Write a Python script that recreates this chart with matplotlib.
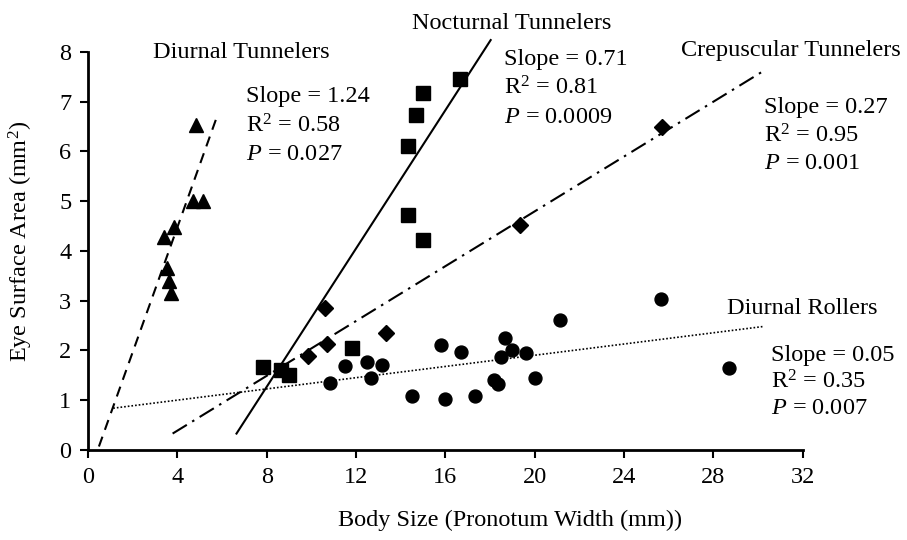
import matplotlib
matplotlib.use('Agg')
import matplotlib.pyplot as plt

plt.rcParams['font.family'] = ['Liberation Serif', 'DejaVu Serif']
plt.rcParams['mathtext.fontset'] = 'custom'
plt.rcParams['mathtext.rm'] = 'Liberation Serif'
plt.rcParams['mathtext.it'] = 'Liberation Serif:italic'
plt.rcParams['font.size'] = 17.5

# diurnal tunnelers (triangles)
dt_x = [4.83, 4.71, 5.13, 3.85, 3.42, 3.52, 3.61, 3.70]
dt_y = [6.53, 5.00, 5.00, 4.49, 4.29, 3.66, 3.40, 3.15]
dt_fit_x = [0.49, 5.83]
dt_fit_y = [0.07, 6.77]

# nocturnal tunnelers (squares)
nt_x = [7.85, 8.66, 9.00, 11.84, 14.35, 15.00, 14.35, 14.68, 15.00, 16.67]
nt_y = [1.67, 1.61, 1.50, 2.06, 4.72, 4.22, 6.12, 6.73, 7.17, 7.46]
nt_fit_x = [6.65, 18.03]
nt_fit_y = [0.33, 8.24]

# crepuscular tunnelers (diamonds)
ct_x = [9.86, 10.68, 10.60, 13.33, 19.33, 25.71]
ct_y = [1.89, 2.14, 2.85, 2.35, 4.52, 6.50]
ct_fit_x = [3.79, 30.32]
ct_fit_y = [0.33, 7.64]

# diurnal rollers (circles)
dr_x = [10.83, 11.50, 12.51, 12.69, 13.17, 14.51, 15.79, 16.00, 16.71, 17.34,
        18.18, 18.36, 18.51, 18.67, 18.98, 19.60, 20.00, 21.12, 25.67, 28.72]
dr_y = [1.34, 1.68, 1.76, 1.44, 1.71, 1.09, 2.11, 1.03, 1.96, 1.09,
        1.41, 1.32, 1.86, 2.25, 2.00, 1.94, 1.44, 2.61, 3.04, 1.64]
dr_fit_x = [1.13, 30.2]
dr_fit_y = [0.84, 2.48]

x_ticks = [0, 4, 8, 12, 16, 20, 24, 28, 32]
y_ticks = [0, 1, 2, 3, 4, 5, 6, 7, 8]

fig = plt.figure(figsize=(9.07, 5.40), dpi=100)
ax = fig.add_axes([0.097, 0.1667, 0.788, 0.737])

ax.plot(dt_fit_x, dt_fit_y, color='black', lw=1.5, ls=(0, (5, 3.5)), clip_on=False)
ax.plot(nt_fit_x, nt_fit_y, color='black', lw=1.5, ls='-', clip_on=False)
ax.plot(ct_fit_x, ct_fit_y, color='black', lw=1.5, ls=(0, (8, 3, 1.2, 3)), clip_on=False)
ax.plot(dr_fit_x, dr_fit_y, color='black', lw=1.2, ls=(0, (1, 1.2)), clip_on=False)

ax.plot(dt_x, dt_y, ls='none', marker='^', ms=9.5, color='black', clip_on=False)
ax.plot(nt_x, nt_y, ls='none', marker='s', ms=9.6, color='black', clip_on=False)
ax.plot(ct_x, ct_y, ls='none', marker='D', ms=8.5, color='black', clip_on=False)
ax.plot(dr_x, dr_y, ls='none', marker='o', ms=9.3, color='black', clip_on=False)

ax.set_xlim(0, 32)
ax.set_ylim(0, 8)
ax.set_xticks(x_ticks)
ax.set_yticks(y_ticks)
for s in ['top', 'right']:
    ax.spines[s].set_visible(False)
for s in ['left', 'bottom']:
    ax.spines[s].set_linewidth(2)
ax.tick_params(direction='out', length=6, width=1.5, pad=6)

ax.set_xlabel('Body Size (Pronotum Width (mm))')
ax.set_ylabel('Eye Surface Area (mm$^2$)')
ax.xaxis.set_label_coords(0.59, -0.151)
ax.yaxis.set_label_coords(-0.074, 0.523)

# group labels and stats
ax.text(2.9, 8.0, 'Diurnal Tunnelers', ha='left', va='center', clip_on=False)
ax.text(7.07, 7.10, 'Slope = 1.24', ha='left', va='center')
ax.text(7.07, 6.51, 'R$^2$ = 0.58', ha='left', va='center')
ax.text(7.07, 5.93, '$P$ = 0.027', ha='left', va='center')

ax.text(14.5, 8.58, 'Nocturnal Tunnelers', ha='left', va='center', clip_on=False)
ax.text(18.61, 7.84, 'Slope = 0.71', ha='left', va='center')
ax.text(18.61, 7.28, 'R$^2$ = 0.81', ha='left', va='center')
ax.text(18.61, 6.69, '$P$ = 0.0009', ha='left', va='center')

ax.text(26.53, 8.04, 'Crepuscular Tunnelers', ha='left', va='center', clip_on=False)
ax.text(30.25, 6.89, 'Slope = 0.27', ha='left', va='center', clip_on=False)
ax.text(30.25, 6.31, 'R$^2$ = 0.95', ha='left', va='center', clip_on=False)
ax.text(30.25, 5.75, '$P$ = 0.001', ha='left', va='center', clip_on=False)

ax.text(28.59, 2.85, 'Diurnal Rollers', ha='left', va='center', clip_on=False)
ax.text(30.6, 1.89, 'Slope = 0.05', ha='left', va='center', clip_on=False)
ax.text(30.6, 1.37, 'R$^2$ = 0.35', ha='left', va='center', clip_on=False)
ax.text(30.6, 0.84, '$P$ = 0.007', ha='left', va='center', clip_on=False)

fig.savefig('out.png', dpi=100)
